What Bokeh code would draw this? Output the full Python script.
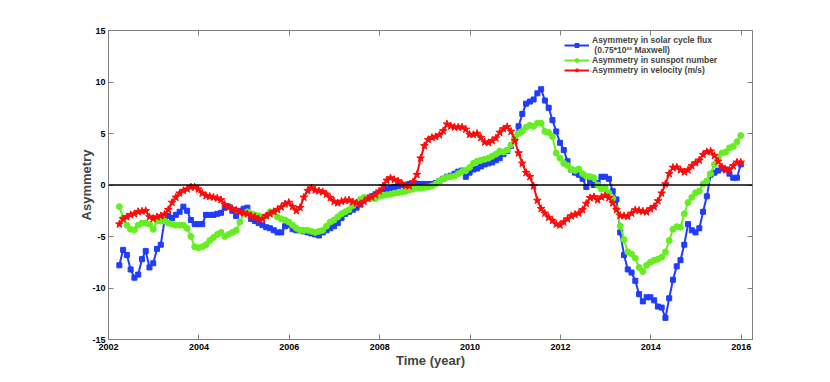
from bokeh.plotting import figure
from bokeh.models import Range1d, LinearAxis, FixedTicker, Span, Legend, LegendItem
from bokeh.embed import file_html
from bokeh.resources import INLINE

# ---------------- data ----------------
t_start = 2002.24          # first sample (year)
t_step = 1 / 12            # monthly samples

flux = [
    -7.8, -6.3, -6.8, -8.2, -9.0, -8.7, -7.2, -6.4, -8.0, -7.6,
    -6.2, -5.8, -3.4, -3.0, -3.2, -2.9, -2.6, -2.1, -2.5, -3.4,
    -3.8, -3.8, -3.8, -2.9, -2.9, -2.9, -2.8, -2.7, -2.2, -2.1,
    -2.5, -3.0, -2.5, -2.3, -2.2, -3.3, -3.5, -3.7, -3.9, -4.1,
    -4.2, -4.4, -4.6, -4.6, -4.0, -3.9, -4.3, -4.4, -4.4, -4.5,
    -4.6, -4.7, -4.8, -4.9, -4.6, -4.4, -4.2, -4.0, -3.7, -3.2,
    -2.8, -2.6, -2.4, -2.2, -1.9, -1.4, -1.3, -1.1, -0.9, -0.8,
    -0.6, -0.4, -0.3, -0.2, -0.1, 0.0, 0.0, 0.1, 0.1, 0.1,
    0.1, 0.1, 0.1, 0.1, 0.2, 0.4, 0.6, 0.8, 0.9, 1.1,
    1.3, 1.4, 0.8, 1.2, 1.5, 1.6, 1.8, 2.0, 2.1, 2.2,
    2.4, 2.6, 3.0, 3.3, 3.8, 4.5, 5.7, 6.9, 7.9, 8.1,
    8.3, 8.9, 9.3, 8.2, 7.5, 6.3, 5.2, 4.1, 3.4, 2.3,
    1.5, 1.2, 1.0, 0.6, -0.2, 0.4, 0.0, 0.2, 0.8, 0.8,
    0.6, -0.6, -1.4, -4.6, -6.8, -8.2, -8.5, -9.3, -10.6, -11.3,
    -10.9, -10.9, -11.2, -11.8, -11.9, -12.9, -11.0, -9.2, -7.9, -7.3,
    -5.8, -3.8, -4.4, -4.6, -4.2, -2.6, -1.1, 1.0, 1.2, 1.4,
    1.6, 1.5, 1.1, 0.7, 0.7, 2.0,
]

sunspot = [
    -2.1, -3.2, -3.9, -4.3, -4.35, -3.9, -3.7, -3.7, -3.8, -4.3,
    -3.5, -3.5, -3.5, -3.7, -3.8, -3.9, -3.9, -3.9, -4.2, -5.0,
    -6.0, -6.1, -6.0, -5.8, -5.4, -5.1, -4.8, -4.6, -5.0, -4.8,
    -4.6, -4.4, -3.6, -2.8, -2.6, -2.8, -2.9, -3.0, -3.1, -3.0,
    -2.6, -2.6, -3.1, -3.3, -3.4, -3.6, -3.9, -4.2, -4.4, -4.4,
    -4.4, -4.5, -4.6, -4.5, -4.4, -4.0, -3.6, -3.4, -3.1, -2.8,
    -2.6, -2.4, -2.0, -1.7, -1.4, -1.2, -1.3, -1.3, -1.3, -1.1,
    -1.0, -0.95, -0.9, -0.8, -0.75, -0.7, -0.6, -0.5, -0.4, -0.3,
    -0.3, -0.25, -0.2, -0.1, 0.1, 0.4, 0.6, 0.75, 0.8, 0.85,
    1.1, 1.3, 1.4, 1.7, 2.1, 2.3, 2.4, 2.5, 2.6, 2.8,
    3.0, 3.3, 3.2, 3.4, 3.9, 4.6, 5.0, 5.2, 5.6, 5.8,
    5.7, 6.0, 6.0, 5.2, 5.1, 4.7, 3.1, 2.6, 2.1, 1.9,
    1.5, 1.4, 1.55, 1.1, 0.85, 0.8, 0.7, 0.0, -0.4, -0.3,
    -0.8, -1.3, -2.3, -4.0, -5.3, -6.5, -6.7, -7.1, -8.0, -8.4,
    -7.8, -7.5, -7.3, -7.2, -7.0, -6.5, -5.4, -4.3, -4.05, -4.1,
    -2.8, -1.7, -1.2, -0.75, -0.6, 0.1, 0.4, 1.1, 2.0, 2.7,
    3.1, 3.2, 3.6, 3.75, 4.2, 4.8,
]

velocity = [
    -3.8, -3.3, -3.1, -2.9, -2.8, -2.6, -2.55, -2.5, -3.1, -3.25,
    -3.1, -3.0, -2.85, -2.4, -1.7, -1.2, -0.8, -0.55, -0.4, -0.2,
    -0.2, -0.4, -0.8, -1.05, -1.12, -1.2, -1.28, -1.45, -1.9, -2.15,
    -2.3, -2.45, -2.64, -2.72, -2.82, -3.0, -3.1, -3.3, -3.3, -3.0,
    -2.8, -2.6, -2.4, -2.15, -1.85, -1.7, -2.1, -2.5, -2.2, -1.2,
    -0.55, -0.3, -0.5, -0.58, -0.67, -0.9, -1.25, -1.6, -1.75, -1.6,
    -1.5, -1.48, -1.65, -1.75, -1.85, -1.6, -1.3, -1.18, -0.95, -0.6,
    -0.1, 0.45, 0.68, 0.52, 0.38, 0.15, -0.08, -0.1, 0.3, 1.0,
    2.6, 3.8, 4.4, 4.6, 4.68, 4.85, 5.25, 5.9, 5.72, 5.62,
    5.61, 5.61, 5.4, 4.9, 4.88, 5.0, 4.6, 4.16, 4.1, 4.3,
    4.55, 5.1, 5.45, 5.65, 5.2, 4.3, 3.1, 2.1, 1.2, 0.8,
    -0.1, -1.5, -2.3, -2.75, -3.15, -3.45, -3.8, -3.9, -3.6, -3.3,
    -3.0, -2.86, -2.75, -2.4, -1.8, -1.25, -1.15, -1.45, -1.18, -1.02,
    -1.25, -1.75, -2.4, -2.96, -3.0, -3.05, -2.75, -2.42, -2.48, -2.55,
    -2.63, -2.32, -2.1, -1.55, -0.8, 0.1, 1.1, 1.7, 1.72, 1.45,
    1.25, 1.45, 1.85, 2.15, 2.4, 2.95, 3.22, 3.28, 2.85, 2.3,
    1.75, 1.47, 1.47, 1.85, 2.2, 2.2,
]

years = [t_start + i * t_step for i in range(len(flux))]

x_ticks = [2002, 2004, 2006, 2008, 2010, 2012, 2014, 2016]
y_ticks = [-15, -10, -5, 0, 5, 10, 15]
y_tick_labels = ["-15", "-10", "-5", "0", "5", "10", "15"]

labels = [
    "Asymmetry in solar cycle flux\n (0.75*10\u00b2\u00b2 Maxwell)",
    "Asymmetry in sunspot number",
    "Asymmetry in velocity (m/s)",
]

# ---------------- styles ----------------
BLUE = "#1f3cff"
GREEN = "#66ee22"
RED = "#ff0a0a"
AXIS_GRAY = "#808080"
FONT = "Liberation Sans"

p = figure(width=822, height=374, output_backend="svg", toolbar_location=None,
           x_range=Range1d(2002, 2016.25), y_range=Range1d(-15, 15),
           min_border_left=108, min_border_right=70,
           min_border_top=30, min_border_bottom=35)
p.xgrid.visible = False
p.ygrid.visible = False
p.outline_line_color = AXIS_GRAY
p.background_fill_color = "white"
p.border_fill_color = "white"


def style_axis(ax, ticks, show_labels):
    ax.ticker = FixedTicker(ticks=ticks)
    ax.major_tick_in = 5
    ax.major_tick_out = 0
    ax.minor_tick_line_color = None
    ax.axis_line_color = AXIS_GRAY
    ax.major_tick_line_color = AXIS_GRAY
    ax.major_label_text_font = FONT
    ax.major_label_text_font_style = "bold"
    ax.major_label_text_font_size = "9px"
    if show_labels:
        ax.major_label_text_color = "black"
        ax.major_label_standoff = 4
    else:
        ax.major_label_text_color = None
        ax.major_label_standoff = 0


xb = p.xaxis[0]
yl = p.yaxis[0]
style_axis(xb, x_ticks, True)
style_axis(yl, y_ticks, True)
yl.major_label_standoff = 3
yl.major_label_overrides = {v: s for v, s in zip(y_ticks, y_tick_labels)}

xt = LinearAxis()
yr = LinearAxis()
style_axis(xt, x_ticks, False)
style_axis(yr, y_ticks, False)
p.add_layout(xt, "above")
p.add_layout(yr, "right")

xb.axis_label = "Time (year)"
xb.axis_label_text_font = FONT
xb.axis_label_text_font_style = "bold"
xb.axis_label_text_font_size = "13px"
xb.axis_label_standoff = 0
yl.axis_label = "Asymmetry"
yl.axis_label_text_font = FONT
yl.axis_label_text_font_style = "bold"
yl.axis_label_text_font_size = "13px"
yl.axis_label_standoff = -5

# zero line
p.add_layout(Span(location=0, dimension="width", line_color="black", line_width=1.5))

# series
bl = p.line(years, flux, line_color=BLUE, line_width=2)
bs = p.scatter(years, flux, marker="square", size=5, fill_color=BLUE, line_color=BLUE)
gl = p.line(years, sunspot, line_color=GREEN, line_width=2)
gs = p.scatter(years, sunspot, marker="circle", size=6, fill_color=GREEN, line_color=GREEN)
rl = p.line(years, velocity, line_color=RED, line_width=2)
rs = p.scatter(years, velocity, marker="star", size=8, fill_color=RED, line_color=RED)

legend = Legend(
    items=[
        LegendItem(label=labels[0], renderers=[bl, bs]),
        LegendItem(label=labels[1], renderers=[gl, gs]),
        LegendItem(label=labels[2], renderers=[rl, rs]),
    ],
    location=(456, 264),
    glyph_width=25, glyph_height=10, label_height=9,
    label_standoff=3, spacing=0, padding=0, margin=0,
    border_line_color=None, background_fill_alpha=0,
    label_text_font=FONT, label_text_font_style="bold",
    label_text_font_size="8.5px", label_text_line_height=1.35,
)
p.add_layout(legend)

open("out.html", "w").write(file_html(p, INLINE))
